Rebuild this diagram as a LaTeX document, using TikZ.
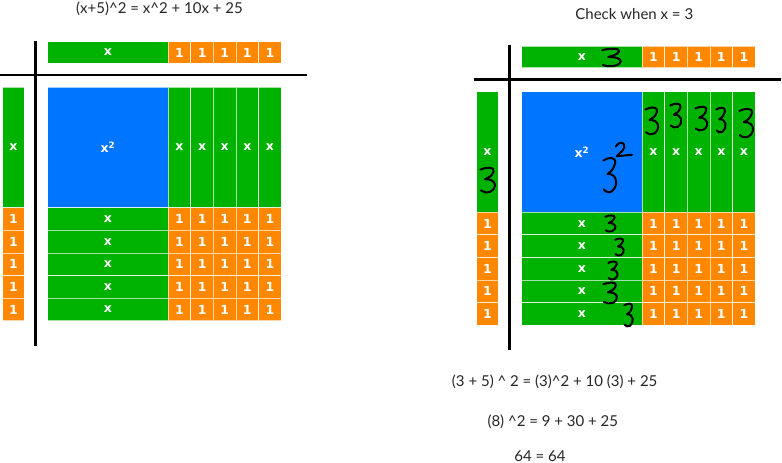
\documentclass[tikz,border=0pt]{standalone}
\usepackage{fontspec}
\setmainfont{Lato}
\newfontfamily\tilefont{DejaVu Sans}
\definecolor{tgreen}{RGB}{0,178,0}
\definecolor{torange}{RGB}{255,136,0}
\definecolor{tblue}{RGB}{0,117,255}
\tikzset{
  tile/.style={draw=white, draw opacity=0.65, line width=0.9pt, inner sep=0pt, outer sep=0pt,
    text=white, font=\tilefont\bfseries\fontsize{12.5}{13}\selectfont},
  gtile/.style={tile, fill=tgreen},
  otile/.style={tile, fill=torange},
  btile/.style={tile, fill=tblue},
  axis/.style={line width=2.6pt, black},
  hand/.style={line width=2pt, black, line cap=round, line join=round},
  eqtext/.style={font=\fontsize{15}{17}\selectfont, text=black!85, inner sep=0pt}
}
\newcommand{\layoutgrid}[1]{%
  % top bar
  \node[gtile, minimum width=120.5pt, minimum height=21.6pt] (#1-top-x) at (107.95,52.5) {x};
  \foreach \i in {1,...,5}{
    \node[otile, minimum width=22.6pt, minimum height=21.6pt] (#1-top-\i) at ({168.2+22.6*(\i-0.5)},52.5) {1};
  }
  % left column
  \node[gtile, minimum width=21.6pt, minimum height=120.5pt] (#1-left-x) at (13.5,147.55) {x};
  \foreach \j in {1,...,5}{
    \node[otile, minimum width=21.6pt, minimum height=22.6pt] (#1-left-\j) at (13.5,{207.8+22.6*(\j-0.5)}) {1};
  }
  % blue square
  \node[btile, minimum width=120.5pt, minimum height=120.5pt] (#1-sq) at (107.95,147.55) {x\textsuperscript{2}};
  % vertical x strips
  \foreach \i in {1,...,5}{
    \node[gtile, minimum width=22.6pt, minimum height=120.5pt] (#1-vx-\i) at ({168.2+22.6*(\i-0.5)},147.55) {x};
  }
  % rows
  \foreach \j in {1,...,5}{
    \node[gtile, minimum width=120.5pt, minimum height=22.6pt] (#1-hx-\j) at (107.95,{207.8+22.6*(\j-0.5)}) {x};
    \foreach \i in {1,...,5}{
      \node[otile, minimum width=22.6pt, minimum height=22.6pt] (#1-one-\i-\j) at ({168.2+22.6*(\i-0.5)},{207.8+22.6*(\j-0.5)}) {1};
    }
  }
  % axes
  \coordinate (#1-h1) at (0,75);
  \coordinate (#1-h2) at (307,75);
  \coordinate (#1-v1) at (35.7,40.7);
  \coordinate (#1-v2) at (35.7,345.7);
  \draw[axis] (#1-h1) -- (#1-h2);
  \draw[axis] (#1-v1) -- (#1-v2);
}
\newcommand{\hthree}[4]{%
  \begin{scope}[shift={(#1,#2)}, xscale={#3-#1}, yscale={#4-#2}]
    \draw[hand] (0.02,0.1) .. controls (0.35,0.0) and (0.9,-0.02) .. (0.8,0.18)
      .. controls (0.7,0.35) and (0.5,0.42) .. (0.3,0.47)
      .. controls (0.95,0.45) and (1.05,0.8) .. (0.6,0.95)
      .. controls (0.4,1.0) and (0.2,0.98) .. (0.05,0.9);
  \end{scope}}
\newcommand{\htwo}[4]{%
  \begin{scope}[shift={(#1,#2)}, xscale={#3-#1}, yscale={#4-#2}]
    \draw[hand] (0.05,0.3) .. controls (0.2,-0.05) and (0.6,-0.05) .. (0.55,0.35)
      .. controls (0.5,0.6) and (0.2,0.8) .. (0.1,0.95) -- (1.0,0.85);
  \end{scope}}
\begin{document}
\begin{tikzpicture}[x=1pt,y=-1pt]
\useasboundingbox (0,0) rectangle (782,463);
\fill[white] (0,0) rectangle (782,463);
% titles
\node[eqtext] (title-left) at (159.5,8.8) {(x+5)\^{}2 = x\^{}2 + 10x + 25};
\node[eqtext] (title-right) at (634.3,14.3) {Check when x = 3};
% left layout
\begin{scope}
  \layoutgrid{L}
\end{scope}
% right layout
\begin{scope}[shift={(474,4.5)}]
  \layoutgrid{R}
\end{scope}
% handwritten 3s
\hthree{601.7}{48.3}{623.3}{66.7}
\hthree{645}{106.7}{660}{135}
\hthree{670}{103}{683}{128}
\hthree{695}{106}{709}{131}
\hthree{716}{107}{727}{133}
\hthree{739}{108}{755}{138}
\hthree{603}{157}{618}{193}
\htwo{615}{142}{632}{157}
\hthree{480}{167}{497}{193}
\hthree{605}{215}{617}{232}
\hthree{615}{238}{625}{256}
\hthree{608}{261}{619}{280}
\hthree{603}{282}{619}{304}
\hthree{624}{303}{634}{327}
% bottom equations
\node[eqtext] (eq1) at (554.7,381.7) {(3 + 5) \^{} 2 = (3)\^{}2 + 10 (3) + 25};
\node[eqtext] (eq2) at (552.8,421.7) {(8) \^{}2 = 9 + 30 + 25};
\node[eqtext] (eq3) at (540,456) {64 = 64};
\end{tikzpicture}
\end{document}
